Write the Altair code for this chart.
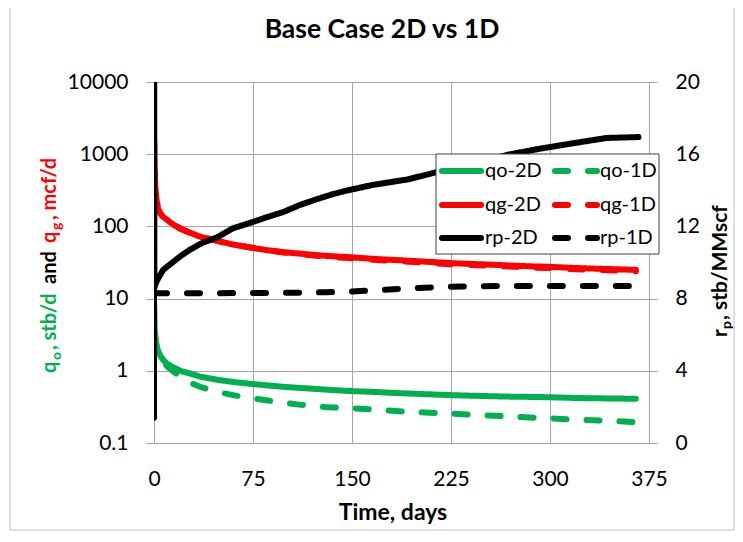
import altair as alt
import pandas as pd

# ---------------- data ----------------
t_q = [0, 0.5, 1, 2, 3, 5, 7, 10, 14, 20, 27, 35, 48, 60, 73, 85, 98, 110,
       123, 136, 148, 166, 186, 205, 225, 245, 265, 285, 300, 320, 340, 365]
qo_2d = [9.0, 4.0, 2.9, 2.2, 1.9, 1.6, 1.41, 1.25, 1.13, 1.0, 0.92, 0.83, 0.75,
         0.70, 0.66, 0.63, 0.60, 0.58, 0.56, 0.54, 0.525, 0.51, 0.49, 0.475,
         0.46, 0.45, 0.44, 0.435, 0.43, 0.42, 0.415, 0.41]
qo_1d = [9.0, 4.0, 2.9, 2.2, 1.9, 1.55, 1.35, 1.15, 1.0, 0.83, 0.69, 0.60, 0.51,
         0.46, 0.42, 0.39, 0.36, 0.34, 0.32, 0.31, 0.305, 0.29, 0.275, 0.265,
         0.255, 0.245, 0.235, 0.225, 0.22, 0.21, 0.205, 0.195]
qg_2d = [1700, 600, 350, 230, 175, 150, 135, 123, 108, 93, 82, 72, 63, 56, 51,
         47, 44, 42, 40, 38.5, 37.5, 35.5, 34, 32.5, 31, 30, 29, 28, 27.5,
         26.5, 25.8, 25]
qg_1d = [1700, 600, 350, 230, 175, 150, 135, 123, 108, 93, 82, 72, 63, 56, 51,
         47, 43.5, 41.3, 39.2, 37.6, 36.5, 34.5, 33, 31.5, 30, 29, 28, 27,
         26.5, 25.5, 24.8, 24]

t_rp2 = [0, 0.05, 0.3, 1, 3, 7, 14, 20, 27, 37, 48, 60, 73, 85, 98, 111, 123,
         136, 147, 166, 192, 211, 240, 267, 292, 317, 343, 367]
rp_2d = [1.4, 30, 8.6, 8.8, 9.1, 9.6, 10.0, 10.35, 10.7, 11.1, 11.4, 11.9, 12.2,
         12.5, 12.8, 13.2, 13.5, 13.8, 14.0, 14.3, 14.6, 14.95, 15.45, 15.95,
         16.3, 16.6, 16.9, 16.95]
t_rp1 = [0, 50, 100, 130, 150, 170, 192, 217, 240, 267, 300, 330, 365]
rp_1d = [8.3, 8.3, 8.32, 8.35, 8.4, 8.47, 8.57, 8.64, 8.68, 8.7, 8.7, 8.7, 8.7]

q_names = ["qo-2D", "qo-1D", "qg-2D", "qg-1D"]
rp_names = ["rp-2D", "rp-1D"]
x_ticks = [0, 75, 150, 225, 300, 375]
left_ticks = [0.1, 1, 10, 100, 1000, 10000]
right_ticks = [0, 4, 8, 12, 16, 20]

rows = []
for name, ts, vs in [("qo-2D", t_q, qo_2d), ("qo-1D", t_q, qo_1d),
                     ("qg-2D", t_q, qg_2d), ("qg-1D", t_q, qg_1d),
                     ("rp-2D", t_rp2, rp_2d), ("rp-1D", t_rp1, rp_1d)]:
    rows += [{"series": name, "t": t, "v": v} for t, v in zip(ts, vs)]
df = pd.DataFrame(rows)

# ---------------- styles ----------------
FONT = "Lato"
GRID = "#a6a6a6"
GREEN = "#00b050"
RED = "#ff0000"
BLACK = "#000000"
SOLID = [1, 0]
DASH = [13, 20]
LW = 6
W, H = 495, 361

x_enc = alt.X("t:Q", scale=alt.Scale(domain=[0, 375], nice=False, zero=False),
              axis=alt.Axis(values=x_ticks, title=None, grid=True, gridColor=GRID,
                            ticks=False, labelPadding=25, labelFontSize=21,
                            labelFont=FONT, labelColor="black", domainColor=GRID,
                            labelFlush=False))

left = alt.Chart(df).transform_filter(
    alt.FieldOneOfPredicate(field="series", oneOf=q_names)
).mark_line(strokeWidth=LW, strokeCap="round", strokeJoin="round", clip=True).encode(
    x=x_enc,
    y=alt.Y("v:Q", scale=alt.Scale(type="log", domain=[0.1, 10000], nice=False),
            axis=alt.Axis(values=left_ticks, format="~g", title=None, grid=True,
                          gridColor=GRID, tickColor=GRID, tickSize=8,
                          domainColor=GRID, labelPadding=18, labelFontSize=21,
                          labelFont=FONT, labelColor="black")),
    color=alt.Color("series:N", scale=alt.Scale(domain=q_names,
                                                range=[GREEN, GREEN, RED, RED]),
                    legend=None),
    strokeDash=alt.StrokeDash("series:N",
                              scale=alt.Scale(domain=q_names,
                                              range=[SOLID, DASH, SOLID, DASH]),
                              legend=None),
)

right = alt.Chart(df).transform_filter(
    alt.FieldOneOfPredicate(field="series", oneOf=rp_names)
).mark_line(strokeWidth=LW, strokeCap="round", strokeJoin="round", clip=True).encode(
    x=x_enc,
    y=alt.Y("v:Q", scale=alt.Scale(domain=[0, 20], nice=False, zero=False),
            axis=alt.Axis(orient="right", values=right_ticks, title=None, grid=False,
                          tickColor=GRID, tickSize=8, domainColor=GRID,
                          labelPadding=18, labelFontSize=21, labelFont=FONT,
                          labelColor="black")),
    color=alt.Color("series:N", scale=alt.Scale(domain=rp_names,
                                                range=[BLACK, BLACK]),
                    legend=None),
    strokeDash=alt.StrokeDash("series:N",
                              scale=alt.Scale(domain=rp_names, range=[SOLID, DASH]),
                              legend=None),
)

one = pd.DataFrame({"k": [0]})


def txt(s, x, y, size, color="black", bold=False, angle=0, align="left",
        baseline="alphabetic"):
    return alt.Chart(one).mark_text(
        text=s, font=FONT, fontSize=size, fontWeight="bold" if bold else "normal",
        color=color, angle=angle, align=align, baseline=baseline
    ).encode(x=alt.value(x), y=alt.value(y))


layers = [left, right]

# outer chart border
layers.append(alt.Chart(one).mark_rect(fillOpacity=0, stroke="#bfbfbf", strokeWidth=1)
              .encode(x=alt.value(-144), x2=alt.value(580),
                      y=alt.value(-75), y2=alt.value(448)))

# legend box
layers.append(alt.Chart(one).mark_rect(fill="white", stroke="#404040", strokeWidth=1)
              .encode(x=alt.value(282), x2=alt.value(505),
                      y=alt.value(72), y2=alt.value(172)))
leg_rows = [89, 123, 156]
leg_items = [("qo-2D", "qo-1D", GREEN), ("qg-2D", "qg-1D", RED),
             ("rp-2D", "rp-1D", BLACK)]
for yy, (n2, n1, col) in zip(leg_rows, leg_items):
    layers.append(alt.Chart(one).mark_rule(stroke=col, strokeWidth=LW, strokeCap="round")
                  .encode(x=alt.value(288), x2=alt.value(327), y=alt.value(yy)))
    layers.append(alt.Chart(one).mark_rule(stroke=col, strokeWidth=LW, strokeCap="round",
                                           strokeDash=DASH)
                  .encode(x=alt.value(401), x2=alt.value(443), y=alt.value(yy)))
    layers.append(txt(n2, 331, yy, 20, baseline="middle"))
    layers.append(txt(n1, 446, yy, 20, baseline="middle"))

# chart title
layers.append(txt("Base Case 2D vs 1D", 228, -44, 26.5, bold=True, align="center"))
# x axis title
layers.append(txt("Time, days", 239, 438, 23, bold=True, align="center"))

# left axis title (rotated, multi-colour with subscripts)
LB = -98
layers += [
    txt("q", LB, 291, 20, GREEN, True, 270),
    txt("o", LB + 5, 278, 14, GREEN, True, 270),
    txt(", stb/d", LB, 268, 20, GREEN, True, 270),
    txt("and", LB, 202, 20, BLACK, True, 270),
    txt("q", LB, 161, 20, RED, True, 270),
    txt("g", LB + 5, 148, 14, RED, True, 270),
    txt(", mcf/d", LB, 138, 20, RED, True, 270),
]
# right axis title
RB = 573
layers += [
    txt("r", RB, 255, 21, BLACK, True, 270),
    txt("p", RB + 4, 247, 14, BLACK, True, 270),
    txt(", stb/MMscf", RB, 238, 21, BLACK, True, 270),
]

chart = alt.layer(*layers).resolve_scale(
    y="independent", color="independent", strokeDash="independent"
).properties(
    width=W, height=H,
    autosize=alt.AutoSizeParams(type="none"),
    padding={"left": 146, "top": 74, "right": 86, "bottom": 88},
).configure_view(stroke=None).configure(background="white")

chart.save("out.html", embed_options={"renderer": "svg", "actions": False})
